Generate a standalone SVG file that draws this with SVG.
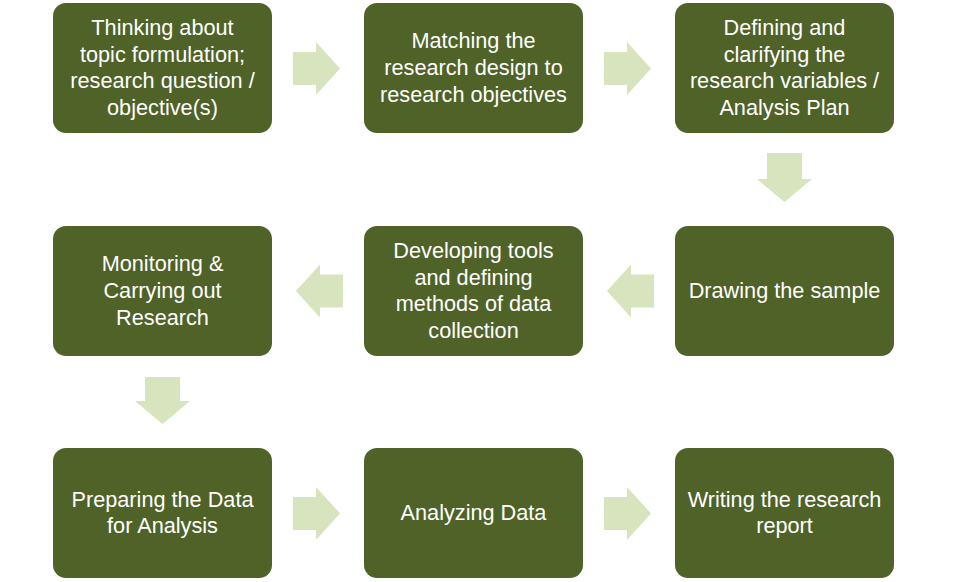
<svg xmlns="http://www.w3.org/2000/svg" width="956" height="582" viewBox="0 0 956 582">
<style>
.box{fill:#4F6228;}
.arr{fill:#D7E4BD;}
text{font-family:"Liberation Sans",Arial,sans-serif;font-size:21.7px;fill:#FFFFFF;text-anchor:middle;}
</style>
<rect width="956" height="582" fill="#FFFFFF"/>
<g id="connectors">
<polygon class="arr" points="293,52 316,52 316,42 340,68.5 316,95 316,85 293,85"/>
<polygon class="arr" points="604,52 627,52 627,42 651,68.5 627,95 627,85 604,85"/>
<polygon class="arr" points="767,153 767,179 757,179 784.5,202 812,179 802,179 802,153"/>
<polygon class="arr" points="654,274.5 631,274.5 631,264.5 607,291 631,317.5 631,307.5 654,307.5"/>
<polygon class="arr" points="343,274.5 320,274.5 320,264.5 296,291 320,317.5 320,307.5 343,307.5"/>
<polygon class="arr" points="145,377 145,401 135,401 162.5,424 190,401 180,401 180,377"/>
<polygon class="arr" points="293,497 316,497 316,487 340,513.5 316,540 316,530 293,530"/>
<polygon class="arr" points="604,497 627,497 627,487 651,513.5 627,540 627,530 604,530"/>
</g>
<g id="n1"><rect class="box" x="53" y="3" width="219" height="130" rx="13"/>
<text x="162.5" y="35">Thinking about</text><text x="162.5" y="62">topic formulation;</text><text x="162.5" y="88">research question /</text><text x="162.5" y="115">objective(s)</text></g>
<g id="n2"><rect class="box" x="364" y="3" width="219" height="130" rx="13"/>
<text x="473.5" y="48">Matching the</text><text x="473.5" y="75">research design to</text><text x="473.5" y="102">research objectives</text></g>
<g id="n3"><rect class="box" x="675" y="3" width="219" height="130" rx="13"/>
<text x="784.5" y="35">Defining and</text><text x="784.5" y="62">clarifying the</text><text x="784.5" y="88">research variables /</text><text x="784.5" y="115">Analysis Plan</text></g>
<g id="n4"><rect class="box" x="53" y="226" width="219" height="130" rx="13"/>
<text x="162.5" y="271">Monitoring &amp;</text><text x="162.5" y="298">Carrying out</text><text x="162.5" y="325">Research</text></g>
<g id="n5"><rect class="box" x="364" y="226" width="219" height="130" rx="13"/>
<text x="473.5" y="258">Developing tools</text><text x="473.5" y="285">and defining</text><text x="473.5" y="311">methods of data</text><text x="473.5" y="338">collection</text></g>
<g id="n6"><rect class="box" x="675" y="226" width="219" height="130" rx="13"/>
<text x="784.5" y="298">Drawing the sample</text></g>
<g id="n7"><rect class="box" x="53" y="448" width="219" height="130" rx="13"/>
<text x="162.5" y="507">Preparing the Data</text><text x="162.5" y="533">for Analysis</text></g>
<g id="n8"><rect class="box" x="364" y="448" width="219" height="130" rx="13"/>
<text x="473.5" y="520">Analyzing Data</text></g>
<g id="n9"><rect class="box" x="675" y="448" width="219" height="130" rx="13"/>
<text x="784.5" y="507">Writing the research</text><text x="784.5" y="533">report</text></g>
</svg>
